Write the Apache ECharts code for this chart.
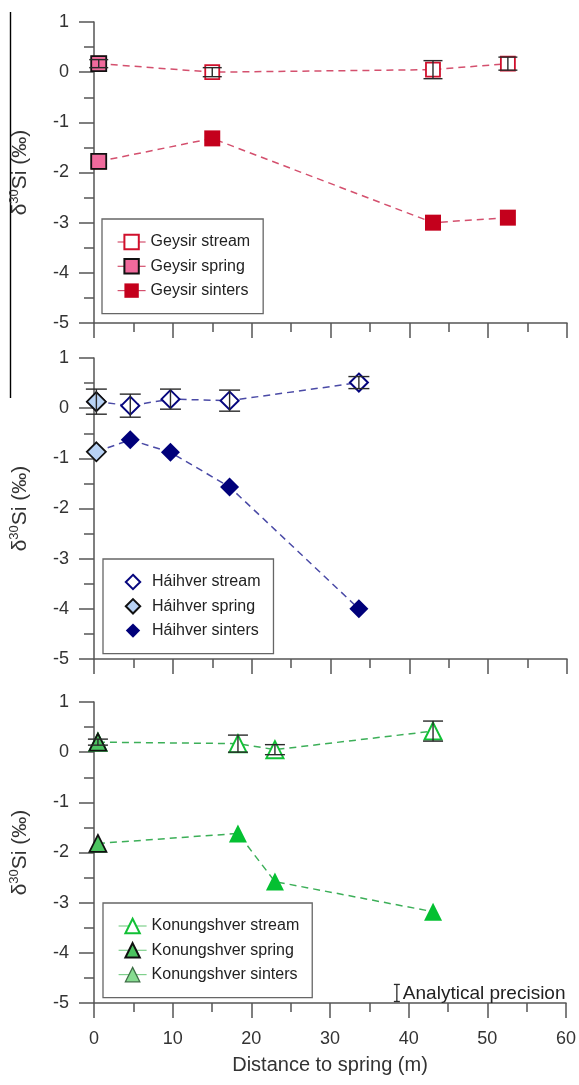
<!DOCTYPE html>
<html>
<head>
<meta charset="utf-8">
<script src="https://cdn.jsdelivr.net/npm/echarts@6/dist/echarts.min.js"></script>
<style>
  html, body { margin: 0; padding: 0; background: #fff; }
  #chart { width: 579px; height: 1085px; }
</style>
</head>
<body>
<div id="chart"></div>
<script>
// ---- Geysir ----
const geysirSpringX = [0.6, 0.6];
const geysirSpringY = [0.17, -1.78];
const geysirSpringErr = 0.08;
const geysirStreamX = [15, 43, 52.5];
const geysirStreamY = [0.0, 0.05, 0.17];
const geysirStreamErr = [0.09, 0.18, 0.13];
const geysirSintersX = [15, 43, 52.5];
const geysirSintersY = [-1.32, -3.0, -2.9];

// ---- Háihver ----
const haihverSpringX = [0.3, 0.3];
const haihverSpringY = [0.13, -0.87];
const haihverSpringErr = 0.25;
const haihverStreamX = [4.6, 9.7, 17.2, 33.6];
const haihverStreamY = [0.05, 0.18, 0.15, 0.51];
const haihverStreamErr = [0.23, 0.2, 0.21, 0.12];
const haihverSintersX = [4.6, 9.7, 17.2, 33.6];
const haihverSintersY = [-0.63, -0.88, -1.57, -4.0];

// ---- Konungshver ----
const konungSpringX = [0.5, 0.5];
const konungSpringY = [0.2, -1.82];
const konungSpringErr = 0.06;
const konungStreamX = [18.3, 23.0, 43.1];
const konungStreamY = [0.17, 0.05, 0.42];
const konungStreamErr = [0.17, 0.1, 0.2];
const konungSintersX = [18.3, 23.0, 43.1];
const konungSintersY = [-1.62, -2.58, -3.18];

// analytical precision bar (x, centre, half-length)
const precision = [38.5, -4.8, 0.17];

const xTicks = [0, 10, 20, 30, 40, 50, 60];
const yTicks = [-5, -4, -3, -2, -1, 0, 1];

const FONT = "'Liberation Sans', Arial, sans-serif";
const AXIS_COLOR = '#555';
const ERR_COLOR = '#2a2a2a';

const pts = (xs, ys) => xs.map((x, i) => [x, ys[i]]);
const errPts = (xs, ys, es) => xs.map((x, i) => [x, ys[i], Array.isArray(es) ? es[i] : es]);

const gridTops = [22, 358, 702];
const GRID_H = 301;

const grids = gridTops.map(t => ({ left: 92, right: 12, top: t, height: GRID_H }));

const xAxes = gridTops.map((t, i) => ({
  type: 'value', gridIndex: i, min: xTicks[0], max: xTicks[xTicks.length - 1], interval: 10,
  axisLine: { onZero: false, lineStyle: { color: AXIS_COLOR, width: 1.5 } },
  axisTick: { show: true, length: 15, lineStyle: { color: AXIS_COLOR, width: 1.5 } },
  minorTick: { show: true, splitNumber: 2, length: 9, lineStyle: { color: AXIS_COLOR, width: 1.5 } },
  splitLine: { show: false },
  axisLabel: { show: i === 2, fontSize: 18, color: '#333', margin: 27, fontFamily: FONT },
  name: i === 2 ? 'Distance to spring (m)' : '',
  nameLocation: 'middle', nameGap: 52,
  nameTextStyle: { fontSize: 20, color: '#333', fontFamily: FONT }
}));

const yName = '{a|δ}{b|30}{a|Si (‰)}';
const yAxes = gridTops.map((t, i) => ({
  type: 'value', gridIndex: i, min: yTicks[0], max: yTicks[yTicks.length - 1], interval: 1,
  axisLine: { show: true, onZero: false, lineStyle: { color: AXIS_COLOR, width: 1.5 } },
  axisTick: { show: true, length: 15, lineStyle: { color: AXIS_COLOR, width: 1.5 } },
  minorTick: { show: true, splitNumber: 2, length: 10, lineStyle: { color: AXIS_COLOR, width: 1.5 } },
  splitLine: { show: false },
  axisLabel: { fontSize: 18, color: '#333', margin: 25, fontFamily: FONT },
  name: yName, nameLocation: 'middle', nameGap: 62,
  nameTextStyle: {
    color: '#333', fontFamily: FONT,
    rich: {
      a: { fontSize: 21, lineHeight: 24, color: '#333', fontFamily: FONT },
      b: { fontSize: 13, lineHeight: 24, verticalAlign: 'top', color: '#333', fontFamily: FONT, padding: [0, 0, 6, 0] }
    }
  }
}));

function errorBars(idx, data, cap) {
  return {
    type: 'custom', xAxisIndex: idx, yAxisIndex: idx, z: 5, silent: true,
    data: data,
    renderItem: function (params, api) {
      const x = api.value(0), y = api.value(1), e = api.value(2);
      const a = api.coord([x, y + e]);
      const b = api.coord([x, y - e]);
      const hw = cap / 2;
      const st = { stroke: ERR_COLOR, lineWidth: 1.4 };
      return {
        type: 'group', children: [
          { type: 'line', shape: { x1: a[0], y1: a[1], x2: b[0], y2: b[1] }, style: st },
          { type: 'line', shape: { x1: a[0] - hw, y1: a[1], x2: a[0] + hw, y2: a[1] }, style: st },
          { type: 'line', shape: { x1: b[0] - hw, y1: b[1], x2: b[0] + hw, y2: b[1] }, style: st }
        ]
      };
    }
  };
}

function dashedSeries(name, idx, data, lineColor, symbol, size, itemStyle, z) {
  return {
    type: 'line', name: name, xAxisIndex: idx, yAxisIndex: idx,
    data: data, symbol: symbol, symbolSize: size, showAllSymbol: true,
    lineStyle: { color: lineColor, width: 1.5, type: [7, 5] },
    itemStyle: itemStyle, z: z, animation: false
  };
}

const series = [];

// Geysir panel
const gLine = '#d4506e';
series.push(dashedSeries('Geysir stream', 0, [[geysirSpringX[0], geysirSpringY[0]]].concat(pts(geysirStreamX, geysirStreamY)),
  gLine, 'rect', 14, { color: '#fff', borderColor: '#d0102c', borderWidth: 1.8 }, 2));
series.push(dashedSeries('Geysir sinters', 0, [[geysirSpringX[1], geysirSpringY[1]]].concat(pts(geysirSintersX, geysirSintersY)),
  gLine, 'rect', 16, { color: '#c4001c', borderColor: '#c4001c', borderWidth: 0 }, 2));
series.push(dashedSeries('Geysir spring', 0, [[geysirSpringX[0], geysirSpringY[0]], [geysirSpringX[0], '-'], [geysirSpringX[1], geysirSpringY[1]]],
  gLine, 'rect', 15, { color: '#f06a9c', borderColor: '#111', borderWidth: 1.8 }, 3));
series.push(errorBars(0, errPts(geysirStreamX, geysirStreamY, geysirStreamErr).concat([[geysirSpringX[0], geysirSpringY[0], geysirSpringErr]]), 19));

// Háihver panel
const hLine = '#4a4aa6';
series.push(dashedSeries('Háihver stream', 1, [[haihverSpringX[0], haihverSpringY[0]]].concat(pts(haihverStreamX, haihverStreamY)),
  hLine, 'diamond', 18, { color: '#fff', borderColor: '#06067e', borderWidth: 2 }, 2));
series.push(dashedSeries('Háihver sinters', 1, [[haihverSpringX[1], haihverSpringY[1]]].concat(pts(haihverSintersX, haihverSintersY)),
  hLine, 'diamond', 19, { color: '#00007a', borderColor: '#00007a', borderWidth: 0 }, 2));
series.push(dashedSeries('Háihver spring', 1, [[haihverSpringX[0], haihverSpringY[0]], [haihverSpringX[0], '-'], [haihverSpringX[1], haihverSpringY[1]]],
  hLine, 'diamond', 19, { color: '#b8d2f4', borderColor: '#111', borderWidth: 1.8 }, 3));
series.push(errorBars(1, errPts(haihverStreamX, haihverStreamY, haihverStreamErr).concat([[haihverSpringX[0], haihverSpringY[0], haihverSpringErr]]), 21));

// Konungshver panel
const kLine = '#3caf58';
series.push(dashedSeries('Konungshver stream', 2, [[konungSpringX[0], konungSpringY[0]]].concat(pts(konungStreamX, konungStreamY)),
  kLine, 'triangle', 17, { color: '#fff', borderColor: '#12c036', borderWidth: 2 }, 2));
series.push(dashedSeries('Konungshver sinters', 2, [[konungSpringX[1], konungSpringY[1]]].concat(pts(konungSintersX, konungSintersY)),
  kLine, 'triangle', 18, { color: '#04c032', borderColor: '#04c032', borderWidth: 0 }, 2));
series.push(dashedSeries('Konungshver spring', 2, [[konungSpringX[0], konungSpringY[0]], [konungSpringX[0], '-'], [konungSpringX[1], konungSpringY[1]]],
  kLine, 'triangle', 17, { color: '#4cc460', borderColor: '#111', borderWidth: 1.8 }, 3));
series.push(errorBars(2, errPts(konungStreamX, konungStreamY, konungStreamErr).concat([[konungSpringX[0], konungSpringY[0], konungSpringErr]]), 20));

// analytical precision marker with its caption
series.push({
  type: 'custom', xAxisIndex: 2, yAxisIndex: 2, z: 6, silent: true,
  data: [precision],
  renderItem: function (params, api) {
    const x = api.value(0), y = api.value(1), e = api.value(2);
    const a = api.coord([x, y + e]);
    const b = api.coord([x, y - e]);
    const st = { stroke: ERR_COLOR, lineWidth: 1.3 };
    return {
      type: 'group', children: [
        { type: 'line', shape: { x1: a[0], y1: a[1], x2: b[0], y2: b[1] }, style: st },
        { type: 'line', shape: { x1: a[0] - 3, y1: a[1], x2: a[0] + 3, y2: a[1] }, style: st },
        { type: 'line', shape: { x1: b[0] - 3, y1: b[1], x2: b[0] + 3, y2: b[1] }, style: st },
        { type: 'text', style: { text: 'Analytical precision', x: a[0] + 6, y: (a[1] + b[1]) / 2 + 1,
          fill: '#222', font: '19px ' + FONT, textVerticalAlign: 'middle', textAlign: 'left' } }
      ]
    };
  }
});

function legendBox(names, left, top, extra) {
  return Object.assign({
    orient: 'vertical', left: left, top: top,
    data: names,
    itemWidth: 28, itemHeight: 18, itemGap: 6.3,
    padding: [14, 13, 14, 15],
    borderColor: '#666', borderWidth: 1.3,
    textStyle: { fontSize: 16, color: '#222', fontFamily: FONT, lineHeight: 18 },
    selectedMode: false
  }, extra || {});
}

const option = {
  backgroundColor: '#fff',
  animation: false,
  grid: grids,
  xAxis: xAxes,
  yAxis: yAxes,
  legend: [
    legendBox(['Geysir stream', 'Geysir spring', 'Geysir sinters'], 102, 219,
      { lineStyle: { type: 'solid', width: 1.2 } }),
    legendBox(['Háihver stream', 'Háihver spring', 'Háihver sinters'], 103, 559,
      { lineStyle: { opacity: 0 } }),
    legendBox(['Konungshver stream', 'Konungshver spring',
      { name: 'Konungshver sinters', itemStyle: { color: '#86dc90', borderColor: '#3d6e45', borderWidth: 1.3 } }], 103, 903,
      { lineStyle: { type: 'solid', width: 1.2, color: '#7fd08c' } })
  ],
  graphic: [
    { type: 'line', shape: { x1: 10.5, y1: 12, x2: 10.5, y2: 398 }, style: { stroke: '#000', lineWidth: 1.4 } }
  ],
  series: series
};

const chart = echarts.init(document.getElementById('chart'), null, { renderer: 'canvas' });
chart.setOption(option);
</script>
</body>
</html>
